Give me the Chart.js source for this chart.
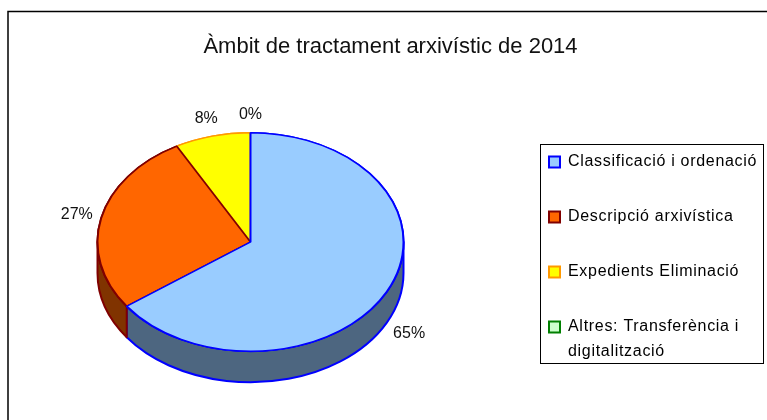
<!DOCTYPE html>
<html>
<head>
<meta charset="utf-8">
<style>
  html, body { margin: 0; padding: 0; background: #fff; overflow: hidden; }
  #wrap { position: relative; width: 767px; height: 420px; }
</style>
</head>
<body>
<div id="wrap"><canvas id="chart" width="767" height="420"></canvas></div>
<script src="https://cdn.jsdelivr.net/npm/chart.js@4"></script>
<script>
const chartTitle = 'Àmbit de tractament arxivístic de 2014'
const categories = ['Classificació i ordenació', 'Descripció arxivística', 'Expedients Eliminació', ['Altres: Transferència i', 'digitalització']]
const values = [65, 27, 8, 0]
const fillColors = ['#99CCFF', '#FF6600', '#FFFF00', '#CCFFCC']
const borderColors = ['#0000FF', '#800000', '#FF9900', '#008000']
const sideColors = ['#4D6680', '#803300', '#808000', '#668066']

const squash = 110 / 154   // top of the pie is an ellipse
const depth = 31

// Tilts the pie and draws the side wall under it
const tiltedPie = {
  id: 'tiltedPie',
  afterLayout(chart) {
    // pie area: square round the centre of the pie, legend and title set by hand
    chart.chartArea = { left: 96.5, right: 404.5, top: 88, bottom: 396, width: 308, height: 308 }

    chart.titleBlock.left = 14

    // legend padding also applies on the left, so the block starts left of its box
    const legend = chart.legend
    legend.left = 510
    legend.right = 767
    legend.top = 115
    legend.bottom = 410
    legend.width = 257
    legend.height = 295

    // wider letters only in the legend
    if (!legend._spaced) {
      const drawLegend = legend.draw
      legend.draw = function () {
        chart.ctx.save()
        chart.ctx.letterSpacing = '0.7px'
        drawLegend.call(legend)
        chart.ctx.restore()
      }
      legend._spaced = true
    }
  },
  beforeDraw(chart) {
    // frame of the chart runs off the right and bottom of the picture, plus the legend box
    const ctx = chart.ctx
    ctx.save()
    ctx.strokeStyle = '#000'
    ctx.lineWidth = 1.5
    ctx.strokeRect(8, 11.5, 800, 500)
    ctx.lineWidth = 1
    ctx.strokeRect(540.5, 144.5, 223, 219)
    ctx.restore()
  },
  beforeDatasetsDraw(chart) {
    const ctx = chart.ctx
    const arcs = chart.getDatasetMeta(0).data
    ctx.save()
    arcs.forEach((arc, i) => {
      const { x, y, startAngle, endAngle, outerRadius } = arc.getProps(['x', 'y', 'startAngle', 'endAngle', 'outerRadius'], true)
      // only the front half of the rim is visible
      const from = Math.max(startAngle, 0)
      const to = Math.min(endAngle, Math.PI)
      if (to <= from) return
      ctx.beginPath()
      ctx.ellipse(x, y, outerRadius, outerRadius * squash, 0, from, to)
      ctx.ellipse(x, y + depth, outerRadius, outerRadius * squash, 0, to, from, true)
      ctx.closePath()
      ctx.fillStyle = sideColors[i]
      ctx.strokeStyle = borderColors[i]
      ctx.lineWidth = 2
      ctx.lineJoin = 'round'
      ctx.fill()
      ctx.stroke()
    })
    ctx.restore()

    const cy = arcs[0].y
    ctx.save()
    ctx.translate(0, cy)
    ctx.scale(1, squash)
    ctx.translate(0, -cy)
  },
  afterDatasetsDraw(chart) {
    const ctx = chart.ctx
    const arcs = chart.getDatasetMeta(0).data

    // first slices lie on top of the later ones
    arcs[2].draw(ctx)
    arcs[1].draw(ctx)
    arcs[0].draw(ctx)
    ctx.restore()

    // percent labels outside the rim
    const total = values.reduce((a, b) => a + b, 0)
    ctx.save()
    ctx.font = '16px "Liberation Sans"'
    ctx.fillStyle = '#111'
    ctx.textAlign = 'center'
    ctx.textBaseline = 'middle'
    arcs.forEach((arc, i) => {
      const { x, y, startAngle, endAngle, outerRadius } = arc.getProps(['x', 'y', 'startAngle', 'endAngle', 'outerRadius'], true)
      const mid = (startAngle + endAngle) / 2
      const r = outerRadius + 25
      const lx = x + Math.cos(mid) * r
      let ly = y + Math.sin(mid) * r * squash
      if (Math.sin(mid) > 0) ly += depth + 3
      ctx.fillText(Math.round(values[i] / total * 100) + '%', lx, ly)
    })
    ctx.restore()
  }
}

Chart.defaults.font.family = '"Liberation Sans", Arial, sans-serif'

new Chart(document.getElementById('chart'), {
  type: 'pie',
  data: {
    labels: categories,
    datasets: [{
      data: values,
      backgroundColor: fillColors,
      borderColor: borderColors,
      borderWidth: 2,
      borderAlign: 'center',
      clip: false
    }]
  },
  options: {
    responsive: false,
    animation: false,
    plugins: {
      title: {
        display: true,
        text: chartTitle,
        color: '#111',
        font: { size: 22, weight: 'normal' },
        padding: { top: 34, bottom: 0 }
      },
      tooltip: { enabled: false },
      legend: {
        display: true,
        position: 'right',
        align: 'start',
        labels: {
          color: '#111',
          font: { size: 16, lineHeight: 1.55 },
          boxWidth: 11,
          boxHeight: 11,
          padding: 39,
          generateLabels: () => categories.map((text, i) => ({
            text,
            fillStyle: fillColors[i],
            strokeStyle: borderColors[i],
            lineWidth: 2,
            hidden: false,
            index: i
          }))
        }
      }
    }
  },
  plugins: [tiltedPie]
})
</script>
</body>
</html>
